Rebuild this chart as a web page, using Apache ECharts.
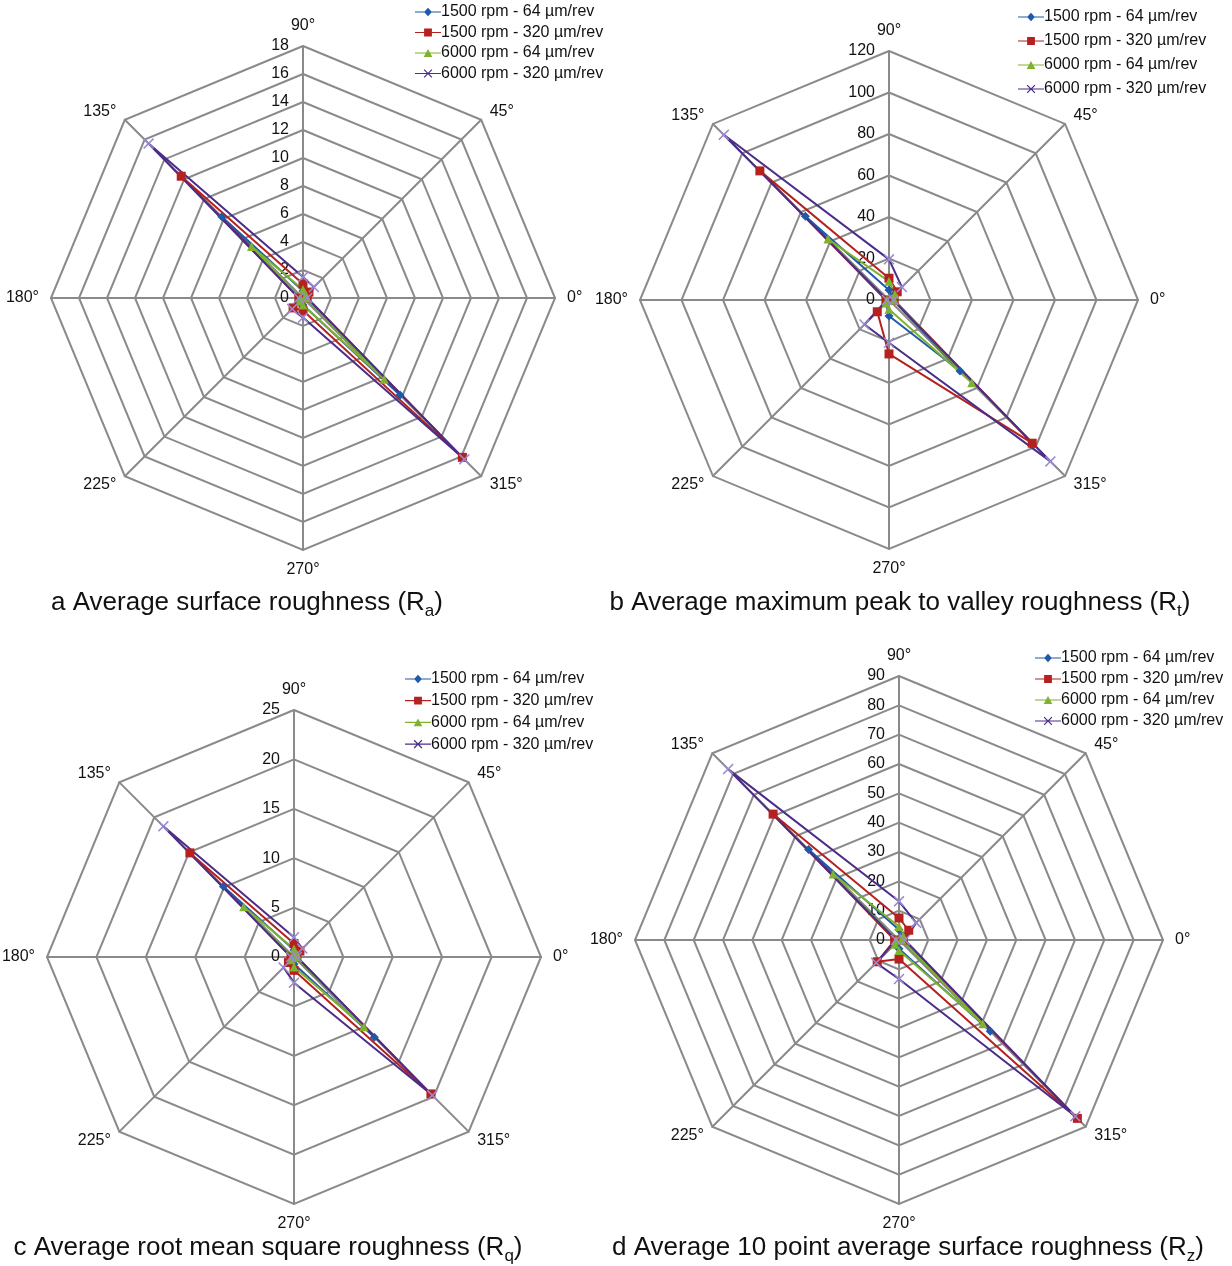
<!DOCTYPE html>
<html><head><meta charset="utf-8">
<script src="https://cdn.jsdelivr.net/npm/echarts@6/dist/echarts.min.js"></script>
<style>html,body{margin:0;padding:0;background:#fff}#c{width:1232px;height:1266px}</style>
</head><body><div id="c"></div>
<script>
// Axis categories in ECharts order (counter-clockwise from top)
const angles = ['90°','135°','180°','225°','270°','315°','0°','45°'];
const seriesNames = ['1500 rpm - 64 µm/rev','1500 rpm - 320 µm/rev','6000 rpm - 64 µm/rev','6000 rpm - 320 µm/rev'];

// a: Ra
const raMax = 18, raSplit = 9;
const ra_1500_64  = [0.5, 8.2, 0.2, 0.4, 0.5, 9.8, 0.2, 0.3];
const ra_1500_320 = [1.0, 12.3, 0.3, 1.0, 0.9, 16.1, 0.3, 0.6];
const ra_6000_64  = [0.6, 5.2, 0.2, 0.3, 0.5, 8.2, 0.2, 0.3];
const ra_6000_320 = [1.5, 15.6, 0.3, 1.1, 1.4, 16.3, 0.3, 1.1];
// b: Rt
const rtMax = 120, rtSplit = 6;
const rt_1500_64  = [4.8, 57, 1, 2, 7.7, 48.4, 2, 2.5];
const rt_1500_320 = [10.5, 88, 1.5, 8, 26, 97.6, 2.5, 5.6];
const rt_6000_64  = [9, 41.6, 1, 2, 4.5, 56.4, 2.5, 4];
const rt_6000_320 = [19.6, 112.6, 1, 16.7, 20.6, 110, 2, 8.8];
// c: Rq
const rqMax = 25, rqSplit = 5;
const rq_1500_64  = [0.7, 10.1, 0.2, 0.4, 0.7, 11.5, 0.2, 0.4];
const rq_1500_320 = [1.36, 14.9, 0.3, 0.8, 1.35, 19.6, 0.3, 0.85];
const rq_6000_64  = [0.8, 7.2, 0.2, 0.4, 1.0, 10.0, 0.2, 0.4];
const rq_6000_320 = [2.0, 18.7, 0.3, 1.5, 2.6, 19.8, 0.3, 1.2];
// d: Rz
const rzMax = 90, rzSplit = 9;
const rz_1500_64  = [3.5, 43.6, 1, 2, 3, 44, 1, 2];
const rz_1500_320 = [7.5, 60.7, 1.5, 10.5, 6.5, 86, 1.5, 4.7];
const rz_6000_64  = [4.6, 31.8, 1, 2, 3.6, 40.4, 1, 2];
const rz_6000_320 = [13.2, 82.4, 1, 11, 13.3, 85, 2, 8.3];

const titles = [
  'a Average surface roughness (R{sub|a})',
  'b Average maximum peak to valley roughness (R{sub|t})',
  'c Average root mean square roughness (R{sub|q})',
  'd Average 10 point average surface roughness (R{sub|z})'
];

const colors = ['#1f5aa8','#b5211f','#7fb22e','#4b2c88'];
const symbolColors = ['#1f5aa8','#b5211f','#7fb22e','#9a8ad0'];
const xPath = 'path://M0,1 L1,0 L5,4 L9,0 L10,1 L6,5 L10,9 L9,10 L5,6 L1,10 L0,9 L4,5 Z';
const symbols = ['diamond','rect','triangle', xPath];
const legendIcons = [
  'path://M0,4.3H30V5.7H0Z M15,0 L19.5,5 L15,10 L10.5,5 Z',
  'path://M0,4.3H30V5.7H0Z M10.5,0.5H19.5V9.5H10.5Z',
  'path://M0,4.3H30V5.7H0Z M15,0.5 L20,9.5 L10,9.5 Z',
  'path://M0,4.3H30V5.7H0Z M10,1 L11,0 L15,4 L19,0 L20,1 L16,5 L20,9 L19,10 L15,6 L11,10 L10,9 L14,5 Z'
];

const charts = [
  {max: raMax, split: raSplit, data: [ra_1500_64, ra_1500_320, ra_6000_64, ra_6000_320], center: [303, 298], radius: 252},
  {max: rtMax, split: rtSplit, data: [rt_1500_64, rt_1500_320, rt_6000_64, rt_6000_320], center: [889, 300], radius: 249},
  {max: rqMax, split: rqSplit, data: [rq_1500_64, rq_1500_320, rq_6000_64, rq_6000_320], center: [294, 957], radius: 247},
  {max: rzMax, split: rzSplit, data: [rz_1500_64, rz_1500_320, rz_6000_64, rz_6000_320], center: [899, 940], radius: 264}
];
const legendPos = [
  {left: 415, top: 4, gap: 4.5},
  {left: 1018, top: 9, gap: 8},
  {left: 405, top: 671, gap: 5.7},
  {left: 1035, top: 650, gap: 5}
];
const titlePos = [
  {left: 247, top: 586},
  {left: 900, top: 586},
  {left: 268, top: 1231},
  {left: 908, top: 1231}
];

const grey = '#8a8a8a';
const font = "'Liberation Sans', Arial, sans-serif";

const option = {
  animation: false,
  backgroundColor: '#fff',
  textStyle: {fontFamily: font},
  title: titles.map((t, i) => ({
    text: t,
    left: titlePos[i].left, top: titlePos[i].top,
    textAlign: 'center',
    padding: 0,
    textStyle: {
      fontSize: 26, fontWeight: 'normal', color: '#111', fontFamily: font, lineHeight: 34,
      rich: {sub: {fontSize: 17, lineHeight: 17, verticalAlign: 'bottom', color: '#111', fontFamily: font}}
    }
  })),
  legend: charts.map((c, i) => ({
    orient: 'vertical',
    left: legendPos[i].left, top: legendPos[i].top,
    padding: 0,
    itemWidth: 26, itemHeight: 9, itemGap: legendPos[i].gap,
    selectedMode: false,
    textStyle: {fontSize: 16, lineHeight: 16, color: '#111', fontFamily: font, padding: [0, 0, 0, -5]},
    data: seriesNames.map((n, k) => ({name: n, icon: legendIcons[k], itemStyle: {color: colors[k]}}))
  })),
  radar: charts.map((c, i) => ({
    center: c.center, radius: c.radius,
    startAngle: 90, shape: 'polygon', splitNumber: c.split,
    axisName: {color: '#111', fontSize: 16, fontFamily: font},
    nameGap: 12,
    splitLine: {lineStyle: {color: grey, width: 2}},
    splitArea: {show: false},
    axisLine: {lineStyle: {color: grey, width: 2}},
    axisTick: {show: false},
    axisLabel: {show: false},
    indicator: angles.map((a, k) => k === 0
      ? {name: a, min: 0, max: c.max, axisLabel: {show: true, color: '#111', fontSize: 16, fontFamily: font, margin: 14}}
      : {name: a, min: 0, max: c.max})
  })),
  series: charts.map((c, i) => ({
    type: 'radar',
    radarIndex: i,
    data: c.data.map((arr, k) => ({
      name: seriesNames[k],
      value: arr,
      symbol: symbols[k],
      symbolSize: k === 3 ? 11 : 9,
      lineStyle: {color: colors[k], width: 2},
      itemStyle: {color: symbolColors[k]}
    }))
  }))
};

const chart = echarts.init(document.getElementById('c'), null, {renderer: 'canvas'});
chart.setOption(option);
</script>
</body></html>
